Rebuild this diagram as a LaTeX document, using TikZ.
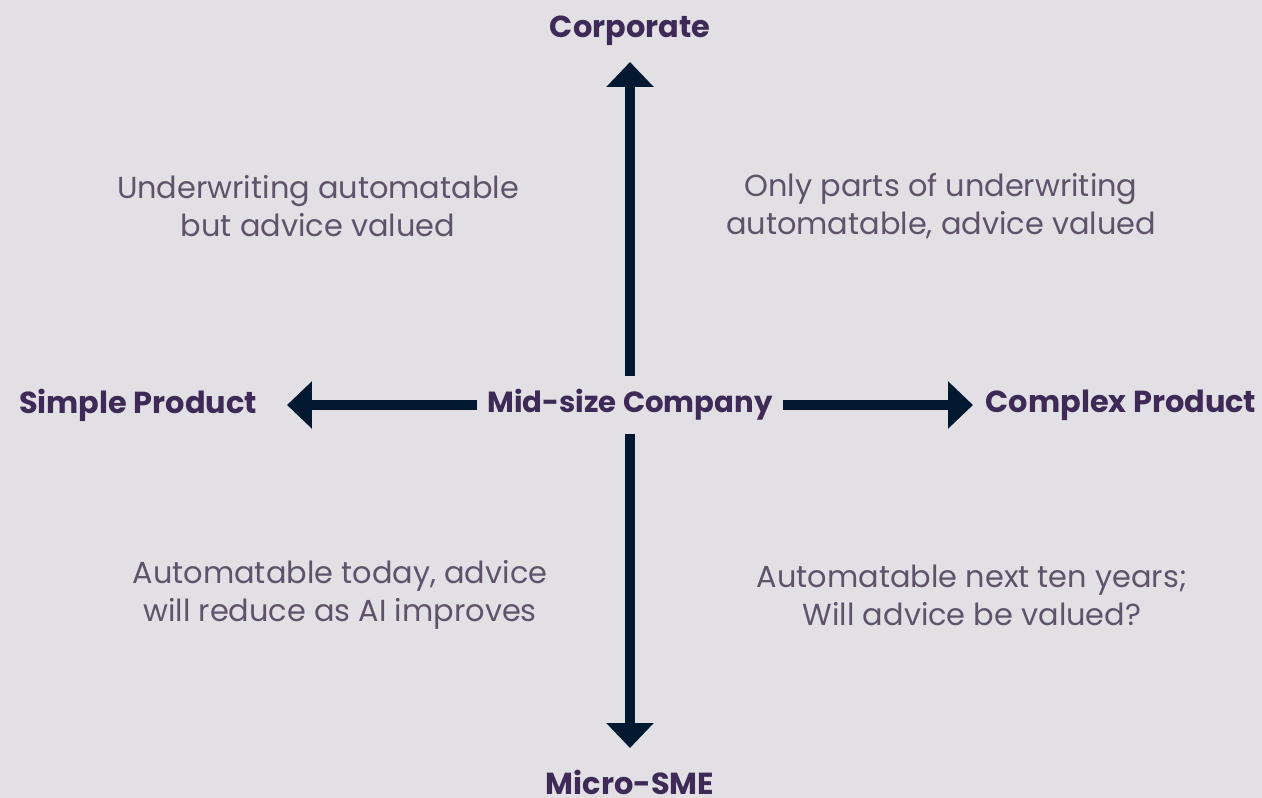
\documentclass[tikz,border=0pt]{standalone}
\usepackage{fontspec}
\setmainfont{Poppins}
\usepackage{tikz}
\usetikzlibrary{arrows.meta}
\definecolor{bgcol}{HTML}{E2E0E5}
\definecolor{axiscol}{HTML}{001830}
\definecolor{labcol}{HTML}{3D2A56}
\definecolor{notecol}{HTML}{5E5368}
\tikzset{every picture/.style={x=0.02cm, y=-0.02cm}}
\tikzset{
  axislab/.style={font=\fontsize{17.3}{20}\selectfont\bfseries, text=labcol, inner sep=0pt},
  quadnote/.style={font=\fontsize{17.3}{21.6}\selectfont, text=notecol, align=center, inner sep=0pt},
  axisline/.style={draw=axiscol, line width=0.2cm, -{Triangle[length=0.5cm, width=0.92cm]}}
}

\begin{document}
\begin{tikzpicture}
    % background and size
    \fill[bgcol] (0,0) rectangle (1262,798);
    \useasboundingbox (0,0) rectangle (1262,798);

    % centre and the four ends of the axes
    \node[axislab, font=\fontsize{16.6}{20}\selectfont\bfseries,
      minimum width=306*0.02cm, minimum height=57*0.02cm] (mid) at (630,405) {Mid-size Company};
    \coordinate (ctop) at (630,62);
    \coordinate (cbot) at (630,748);
    \coordinate (cleft) at (287,405);
    \coordinate (cright) at (973,405);

    % axis labels
    \node[axislab] (corp) at (630,31) {Corporate};
    \node[axislab] (micro) at (630,782) {Micro-SME};
    \node[axislab] (simple) at (138,405) {Simple Product};
    \node[axislab] (complex) at (1121,405) {Complex Product};

    % arrows
    \draw[axisline] (mid) -- (ctop);
    \draw[axisline] (mid) -- (cbot);
    \draw[axisline] (mid) -- (cleft);
    \draw[axisline] (mid) -- (cright);

    % quadrants
    \node[quadnote] (q1) at (318,206) {Underwriting automatable\\but advice valued};
    \node[quadnote] (q2) at (941,206) {Only parts of underwriting\\automatable, advice valued};
    \node[quadnote] (q3) at (340,595) {Automatable today, advice\\will reduce as AI improves};
    \node[quadnote] (q4) at (972,595) {Automatable next ten years;\\Will advice be valued?};
\end{tikzpicture}
\end{document}
